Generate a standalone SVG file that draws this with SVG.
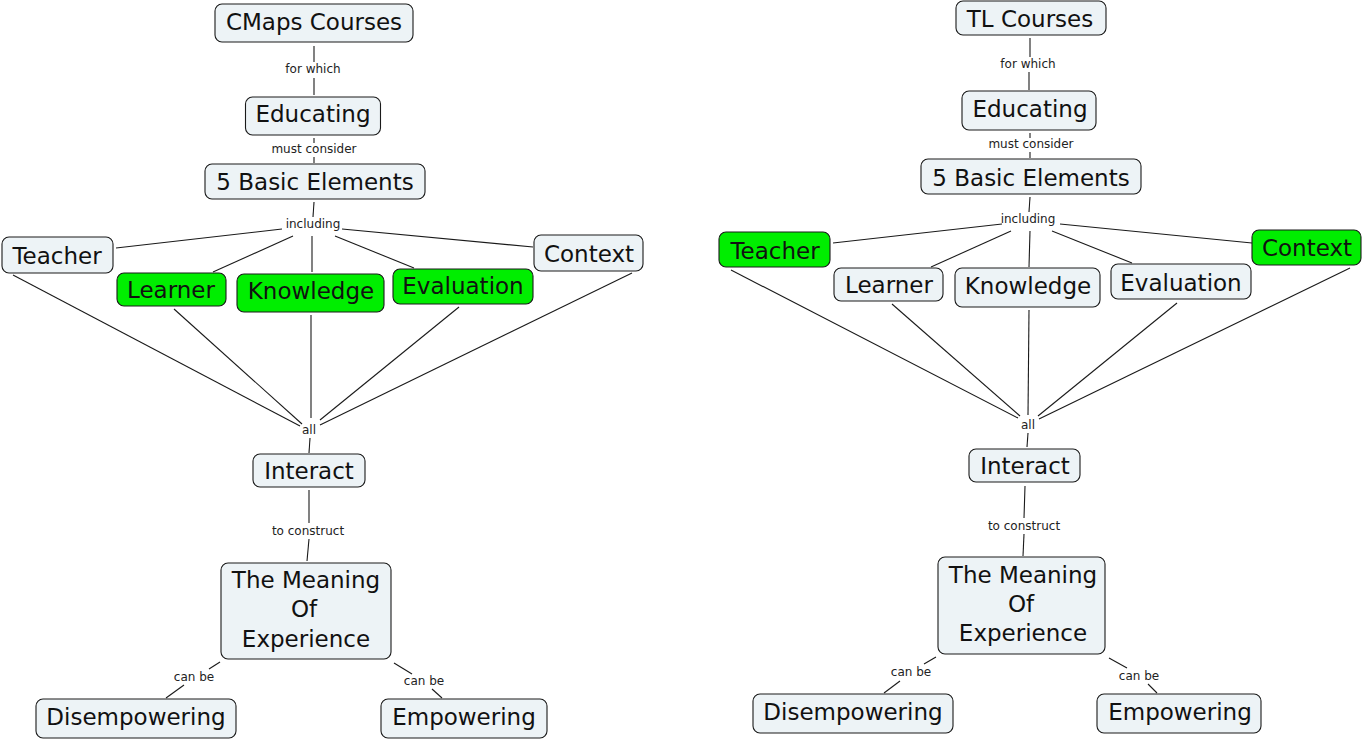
<svg xmlns="http://www.w3.org/2000/svg" width="1364" height="740" viewBox="0 0 1364 740">
<style>
.n rect{fill:#edf3f6;stroke:#1a1a1a;stroke-width:1.1}
.g rect{fill:#00ee00}
.n text{font-family:"DejaVu Sans","Liberation Sans",sans-serif;font-size:23px;fill:#111;text-anchor:middle}
.l{font-family:"DejaVu Sans","Liberation Sans",sans-serif;font-size:12px;fill:#222;text-anchor:middle}
#connectors line{stroke:#1a1a1a;stroke-width:1.1}
</style>
<rect width="1364" height="740" fill="#fff"/>
<g id="connectors">
<line x1="314" y1="46" x2="314" y2="62"/><line x1="314" y1="78" x2="314" y2="95"/>
<line x1="314" y1="138" x2="314" y2="143"/><line x1="314" y1="157" x2="314" y2="163"/>
<line x1="314" y1="202" x2="313" y2="217"/>
<line x1="282" y1="229" x2="116" y2="248"/>
<line x1="293" y1="236" x2="213" y2="272"/>
<line x1="312" y1="236" x2="312" y2="272"/>
<line x1="335" y1="236" x2="414" y2="268"/>
<line x1="342" y1="229" x2="533" y2="247"/>
<line x1="13" y1="275" x2="300" y2="426"/>
<line x1="174" y1="309" x2="302" y2="424"/>
<line x1="311" y1="315" x2="311" y2="418"/>
<line x1="459" y1="307" x2="320" y2="420"/>
<line x1="632" y1="273" x2="320" y2="425"/>
<line x1="310" y1="438" x2="309" y2="453"/>
<line x1="309" y1="490" x2="309" y2="523"/>
<line x1="309" y1="539" x2="307" y2="561"/>
<line x1="220" y1="662" x2="209" y2="669"/>
<line x1="184" y1="685" x2="166" y2="698"/>
<line x1="394" y1="663" x2="412" y2="674"/>
<line x1="432" y1="689" x2="442" y2="698"/>
<line x1="1030" y1="38" x2="1030" y2="57"/><line x1="1029" y1="72" x2="1029" y2="90"/>
<line x1="1030" y1="133" x2="1030" y2="138"/><line x1="1030" y1="152" x2="1030" y2="158"/>
<line x1="1030" y1="197" x2="1029" y2="212"/>
<line x1="1002" y1="224" x2="833" y2="243"/>
<line x1="1011" y1="231" x2="931" y2="267"/>
<line x1="1030" y1="231" x2="1029" y2="267"/>
<line x1="1052" y1="231" x2="1132" y2="263"/>
<line x1="1060" y1="224" x2="1252" y2="243"/>
<line x1="731" y1="270" x2="1018" y2="418"/>
<line x1="892" y1="304" x2="1020" y2="416"/>
<line x1="1029" y1="310" x2="1028" y2="415"/>
<line x1="1177" y1="303" x2="1038" y2="416"/>
<line x1="1350" y1="268" x2="1039" y2="419"/>
<line x1="1028" y1="433" x2="1027" y2="447"/>
<line x1="1025" y1="486" x2="1024" y2="518"/>
<line x1="1024" y1="534" x2="1023" y2="556"/>
<line x1="936" y1="657" x2="924" y2="664"/>
<line x1="900" y1="681" x2="884" y2="693"/>
<line x1="1109" y1="658" x2="1127" y2="668"/>
<line x1="1148" y1="684" x2="1157" y2="693"/>
</g>
<g id="linking-phrases">
<text class="l" x="313" y="73">for which</text>
<text class="l" x="314" y="153">must consider</text>
<text class="l" x="313" y="228">including</text>
<text class="l" x="309" y="434">all</text>
<text class="l" x="308" y="535">to construct</text>
<text class="l" x="194" y="681">can be</text>
<text class="l" x="424" y="685">can be</text>
<text class="l" x="1028" y="68">for which</text>
<text class="l" x="1031" y="148">must consider</text>
<text class="l" x="1028" y="223">including</text>
<text class="l" x="1028" y="429">all</text>
<text class="l" x="1024" y="530">to construct</text>
<text class="l" x="911" y="676">can be</text>
<text class="l" x="1139" y="680">can be</text>
</g>
<g id="L-cmaps" class="n"><rect x="215" y="4" width="198" height="38" rx="7"/><text x="314" y="30">CMaps Courses</text></g>
<g id="L-educating" class="n"><rect x="245.5" y="97" width="135" height="38" rx="7"/><text x="313" y="122">Educating</text></g>
<g id="L-elements" class="n"><rect x="205" y="164" width="220" height="35" rx="7"/><text x="315" y="190">5 Basic Elements</text></g>
<g id="L-teacher" class="n"><rect x="2" y="237" width="111" height="36" rx="7"/><text x="57" y="264">Teacher</text></g>
<g id="L-learner" class="n g"><rect x="117" y="273" width="109" height="33" rx="7"/><text x="171" y="298">Learner</text></g>
<g id="L-knowledge" class="n g"><rect x="237" y="274" width="147" height="38" rx="7"/><text x="311" y="299">Knowledge</text></g>
<g id="L-evaluation" class="n g"><rect x="393" y="269" width="140" height="35" rx="7"/><text x="463" y="294">Evaluation</text></g>
<g id="L-context" class="n"><rect x="534" y="235" width="109" height="36" rx="7"/><text x="589" y="262">Context</text></g>
<g id="L-interact" class="n"><rect x="253" y="454" width="112" height="33" rx="7"/><text x="309" y="479">Interact</text></g>
<g id="L-meaning" class="n"><rect x="221" y="563" width="170" height="96" rx="7"/><text x="306" y="588">The Meaning</text><text x="304" y="617">Of</text><text x="306" y="647">Experience</text></g>
<g id="L-disempowering" class="n"><rect x="36" y="699" width="200" height="39" rx="7"/><text x="136" y="725">Disempowering</text></g>
<g id="L-empowering" class="n"><rect x="381" y="699" width="166" height="39" rx="7"/><text x="464" y="725">Empowering</text></g>
<g id="R-tl" class="n"><rect x="956" y="1" width="150" height="34" rx="7"/><text x="1030" y="27">TL Courses</text></g>
<g id="R-educating" class="n"><rect x="962" y="91" width="134" height="39" rx="7"/><text x="1030" y="117">Educating</text></g>
<g id="R-elements" class="n"><rect x="921" y="159" width="220" height="35" rx="7"/><text x="1031" y="186">5 Basic Elements</text></g>
<g id="R-teacher" class="n g"><rect x="719" y="232" width="111" height="35" rx="7"/><text x="775" y="259">Teacher</text></g>
<g id="R-learner" class="n"><rect x="834" y="268" width="109" height="33" rx="7"/><text x="889" y="293">Learner</text></g>
<g id="R-knowledge" class="n"><rect x="955" y="268" width="145" height="39" rx="7"/><text x="1028" y="294">Knowledge</text></g>
<g id="R-evaluation" class="n"><rect x="1111" y="264" width="140" height="35" rx="7"/><text x="1181" y="291">Evaluation</text></g>
<g id="R-context" class="n g"><rect x="1252" y="230" width="109" height="35" rx="7"/><text x="1307" y="256">Context</text></g>
<g id="R-interact" class="n"><rect x="969" y="449" width="111" height="33" rx="7"/><text x="1025" y="474">Interact</text></g>
<g id="R-meaning" class="n"><rect x="938" y="557" width="167" height="97" rx="7"/><text x="1023" y="583">The Meaning</text><text x="1021" y="612">Of</text><text x="1023" y="641">Experience</text></g>
<g id="R-disempowering" class="n"><rect x="753" y="694" width="200" height="39" rx="7"/><text x="853" y="720">Disempowering</text></g>
<g id="R-empowering" class="n"><rect x="1097" y="694" width="164" height="39" rx="7"/><text x="1180" y="720">Empowering</text></g>
</svg>
